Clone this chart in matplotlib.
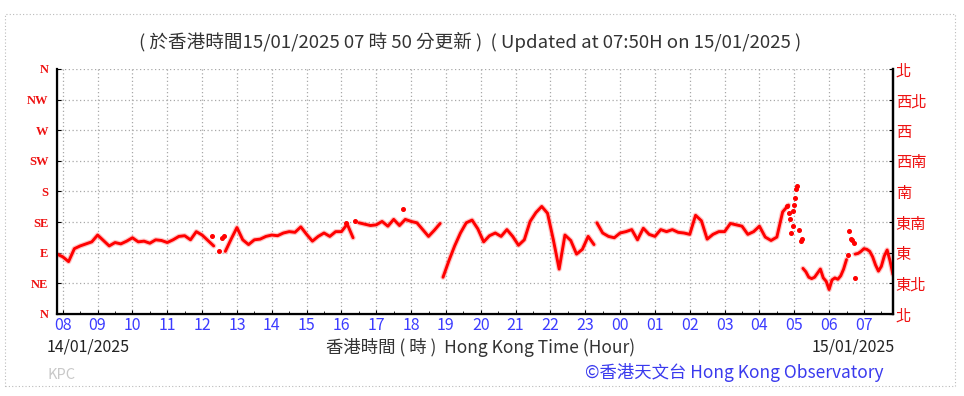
import numpy as np
import matplotlib.pyplot as plt
from matplotlib.patches import Rectangle

plt.rcParams['font.family'] = ['Noto Sans CJK TC', 'DejaVu Sans']


def hours(stamp):
    # "DD HH:MM" -> hours after 14/01 00:00
    day, hm = stamp.split()
    h, m = hm.split(':')
    return (int(day) - 14) * 24 + int(h) + int(m) / 60


# wind direction (degrees), continuous stretches: start, step in minutes, values
seg_a_start, seg_a_step = "14 07:50", 10
seg_a_dir = [88, 84, 77, 96, 100, 103, 106, 116, 108, 100, 105, 103, 107, 112,
             106, 107, 104, 109, 108, 105, 109, 114, 115, 109, 121, 116, 108, 100]

seg_b_start, seg_b_step = "14 12:40", 10
seg_b_dir = [92, 110, 127, 109, 102, 109, 110, 114, 116, 115, 119, 121, 120, 128,
             117, 107, 114, 119, 114, 121, 121, 132, 112]

seg_c_start, seg_c_step = "14 16:30", 10
seg_c_dir = [134, 132, 130, 131, 136, 129, 139, 130, 139, 136, 134, 124, 114, 123, 133]

seg_d_start, seg_d_step = "14 18:55", 10
seg_d_dir = [54, 78, 100, 119, 134, 138, 125, 106, 115, 119, 114, 124, 114, 101,
             109, 136, 149, 158, 148, 109, 66, 116, 108, 88, 95, 114, 102]

seg_e_start, seg_e_step = "14 23:20", 10
seg_e_dir = [134, 119, 114, 112, 119, 121, 124, 109, 126, 117, 114, 124, 121, 124,
             120, 119, 117, 145, 137, 110, 117, 121, 121, 133, 131, 129, 117, 121,
             129, 113, 108, 113, 150, 160]

seg_f_start, seg_f_step = "15 05:15", 5
seg_f_dir = [67, 62, 54, 52, 54, 60, 66, 53, 48, 36, 50, 53, 51, 56, 66, 80]

seg_g_start, seg_g_step = "15 06:45", 5
seg_g_dir = [88, 89, 92, 96, 95, 92, 84, 72, 63, 70, 85, 94, 78, 58]

segments = [(seg_a_start, seg_a_step, seg_a_dir), (seg_b_start, seg_b_step, seg_b_dir),
            (seg_c_start, seg_c_step, seg_c_dir), (seg_d_start, seg_d_step, seg_d_dir),
            (seg_e_start, seg_e_step, seg_e_dir), (seg_f_start, seg_f_step, seg_f_dir),
            (seg_g_start, seg_g_step, seg_g_dir)]

# isolated readings
dot_times = ["14 12:17", "14 12:29", "14 12:34", "14 12:37", "14 16:08", "14 16:23",
             "14 17:46", "15 04:48", "15 04:51", "15 04:53", "15 04:54", "15 04:57",
             "15 04:57", "15 04:59", "15 05:01", "15 05:03", "15 05:05", "15 05:09",
             "15 05:11", "15 05:13", "15 06:33", "15 06:35", "15 06:38", "15 06:40",
             "15 06:43", "15 06:45"]
dot_dir = [114, 92, 112, 114, 134, 136, 155, 158, 148, 140, 119, 151, 129, 160, 170,
           183, 188, 124, 107, 110, 86, 122, 110, 108, 105, 53]

dir_en = ['N', 'NE', 'E', 'SE', 'S', 'SW', 'W', 'NW', 'N']
dir_zh = ['北', '東北', '東', '東南', '南', '西南', '西', '西北', '北']
hour_ticks = list(range(8, 32))
hour_labels = ['%02d' % (h % 24) for h in hour_ticks]

fig = plt.figure(figsize=(9.64, 3.96), dpi=100)
ax = fig.add_axes([0.0591, 0.2071, 0.8672, 0.6187])

for start, step, vals in segments:
    t = hours(start) + np.arange(len(vals)) * step / 60
    ax.plot(t, vals, color='#ff8c8c', lw=3.8, alpha=0.5, zorder=3,
            solid_capstyle='round', solid_joinstyle='round')
    ax.plot(t, vals, color='#ff0000', lw=2.1, zorder=4,
            solid_capstyle='round', solid_joinstyle='round')
dt = [hours(s) for s in dot_times]
ax.plot(dt, dot_dir, ls='none', marker='o', ms=2.6, color='#ff0000', zorder=4)

ax.set_xlim(hours("14 07:50"), hours("15 07:50"))
ax.set_ylim(0, 360)
ax.set_xticks(hour_ticks)
ax.set_xticklabels(hour_labels, color='#3c3cff', fontsize=11.5)
ax.set_xticks(np.arange(8.5, 32, 1), minor=True)
ax.set_yticks(np.arange(0, 361, 45))
ax.set_yticklabels(dir_en, color='#ee1111', fontsize=9, family='Liberation Serif',
                   fontweight='bold')
ax.tick_params(axis='x', which='major', length=3, direction='in', pad=2)
ax.tick_params(axis='x', which='minor', length=2, direction='in')
ax.tick_params(axis='y', length=3, direction='in', pad=6)
ax.grid(True, color='#a8a8a8', ls=(0, (1, 2)), lw=0.9)
ax.spines['top'].set_visible(False)
for side in ['left', 'right', 'bottom']:
    ax.spines[side].set_linewidth(1.6)

ax2 = ax.twinx()
ax2.set_ylim(0, 360)
ax2.set_yticks(np.arange(0, 361, 45))
ax2.set_yticklabels(dir_zh, color='#ee1111', fontsize=11)
ax2.tick_params(axis='y', length=3, direction='in', pad=2)
ax2.spines['top'].set_visible(False)
ax2.spines['right'].set_linewidth(1.6)

fig.text(0.4876, 0.894, '( 於香港時間15/01/2025 07 時 50 分更新 )  ( Updated at 07:50H on 15/01/2025 )',
         ha='center', va='center', fontsize=13.4, color='#333333')
fig.text(0.0488, 0.1237, '14/01/2025', ha='left', va='center', fontsize=11.5, color='#222222')
fig.text(0.499, 0.1237, '香港時間 ( 時 )  Hong Kong Time (Hour)', ha='center', va='center',
         fontsize=12.5, color='#333333')
fig.text(0.928, 0.1237, '15/01/2025', ha='right', va='center', fontsize=11.5, color='#222222')
fig.text(0.0495, 0.052, 'KPC', ha='left', va='center', fontsize=10.5, color='#c8c8c8')
fig.text(0.916, 0.0606, '©香港天文台 Hong Kong Observatory', ha='right', va='center',
         fontsize=12.5, color='#3a3aee')

fig.patches.append(Rectangle((5 / 964, 10 / 396), 950 / 964, 372 / 396, transform=fig.transFigure,
                             fill=False, ls=(0, (1, 2)), ec='#bbbbbb', lw=0.8))

fig.savefig('out.png', dpi=100)
